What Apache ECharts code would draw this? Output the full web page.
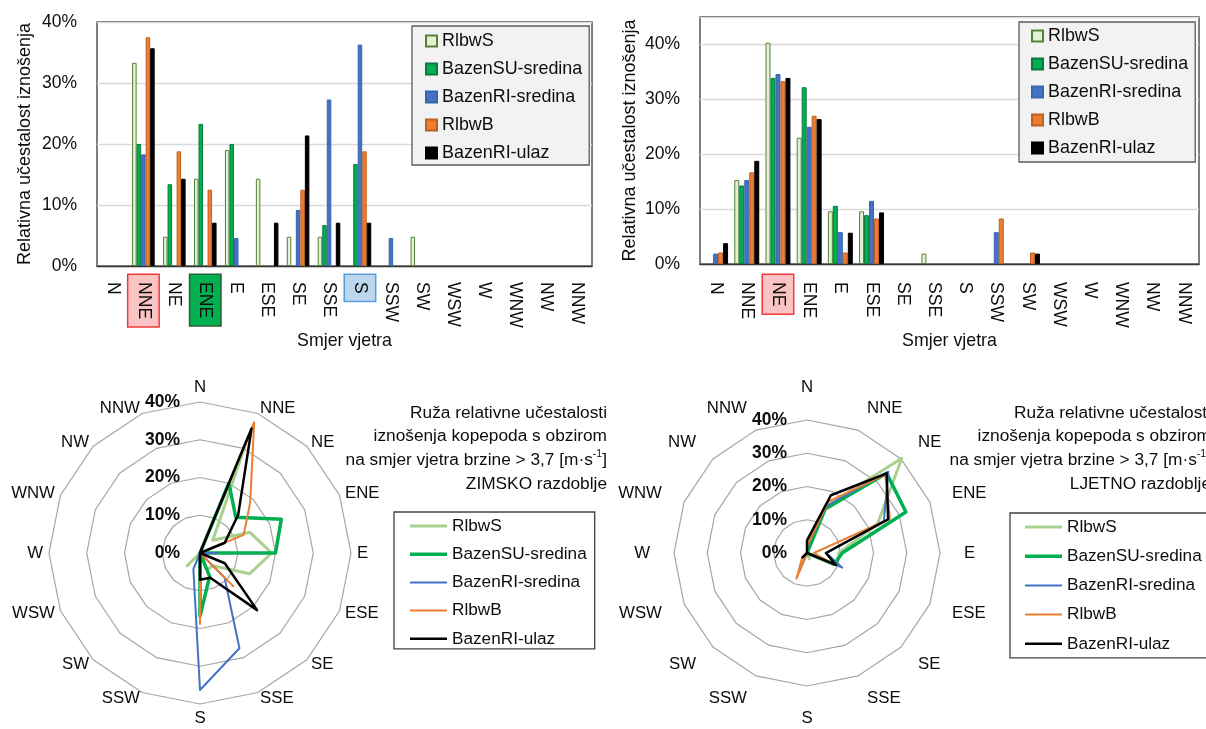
<!DOCTYPE html>
<html><head><meta charset="utf-8">
<script src="https://cdn.jsdelivr.net/npm/echarts@6/dist/echarts.min.js"></script>
<style>html,body{margin:0;padding:0;background:#fff;overflow:hidden}.c{position:absolute;left:0;top:0;width:1206px;height:729px}</style>
</head><body>
<div id="c1" class="c"></div><div id="c2" class="c"></div><div id="c3" class="c"></div><div id="c4" class="c"></div>
<script>
// ---------------- DATA ----------------
const directions = ['N','NNE','NE','ENE','E','ESE','SE','SSE','S','SSW','SW','WSW','W','WNW','NW','NNW'];
const seriesNames = ['RlbwS','BazenSU-sredina','BazenRI-sredina','RlbwB','BazenRI-ulaz'];
const yTickLabels = ['0%','10%','20%','30%','40%'];

// ZIMSKO razdoblje (winter), relative frequency [%]
const winterRlbwS      = [0, 33.3, 4.8, 14.3, 19.0, 14.3, 4.8, 4.8, 0, 0, 4.8, 0, 0, 0, 0, 0];
const winterBazenSU    = [0, 20.0, 13.4, 23.3, 20.0, 0, 0, 6.7, 16.7, 0, 0, 0, 0, 0, 0, 0];
const winterBazenRIsr  = [0, 18.3, 0, 0, 4.6, 0, 9.2, 27.3, 36.3, 4.6, 0, 0, 0, 0, 0, 0];
const winterRlbwB      = [0, 37.5, 18.8, 12.5, 0, 0, 12.5, 0, 18.8, 0, 0, 0, 0, 0, 0, 0];
const winterBazenRIul  = [0, 35.7, 14.3, 7.1, 0, 7.1, 21.4, 7.1, 7.1, 0, 0, 0, 0, 0, 0, 0];

// LJETNO razdoblje (summer), relative frequency [%]
const summerRlbwS      = [0, 15.3, 40.3, 23.0, 9.6, 9.6, 0, 1.9, 0, 0, 0, 0, 0, 0, 0, 0];
const summerBazenSU    = [0, 14.3, 33.9, 32.2, 10.6, 8.9, 0, 0, 0, 0, 0, 0, 0, 0, 0, 0];
const summerBazenRIsr  = [1.9, 15.3, 34.6, 25.0, 5.8, 11.5, 0, 0, 0, 5.8, 0, 0, 0, 0, 0, 0];
const summerRlbwB      = [2.1, 16.7, 33.3, 27.0, 2.1, 8.3, 0, 0, 0, 8.3, 2.1, 0, 0, 0, 0, 0];
const summerBazenRIul  = [3.8, 18.8, 33.9, 26.4, 5.7, 9.4, 0, 0, 0, 0, 1.9, 0, 0, 0, 0, 0];

const winter = [winterRlbwS, winterBazenSU, winterBazenRIsr, winterRlbwB, winterBazenRIul];
const summer = [summerRlbwS, summerBazenSU, summerBazenRIsr, summerRlbwB, summerBazenRIul];

const titleWinter = 'Ruža relativne učestalosti\niznošenja kopepoda s obzirom\nna smjer vjetra brzine > 3,7 [m·s{sup|-1}]\nZIMSKO razdoblje';
const titleSummer = 'Ruža relativne učestalosti\niznošenja kopepoda s obzirom\nna smjer vjetra brzine > 3,7 [m·s{sup|-1}]\nLJETNO razdoblje';

// ---------------- STYLE ----------------
const FF = 'Liberation Sans';
const TXT = '#0d0d0d';

const barFill   = ['#E2F0D9','#00B050','#4472C4','#ED7D31','#000000'];
const barBorder = ['#548235','#0A7A3A','#3A64B0','#C0601F','#000000'];
const lineColor = ['#A9D18E','#00B050','#4472C4','#ED7D31','#000000'];
const lineWidth = [3, 3.5, 2, 2, 2.5];

function barOption(cfg){
  const base = {fontFamily:FF, fontSize:17.6, color:TXT, padding:[6,7,6,7]};
  const rich = {
    n:  base,
    hr: Object.assign({}, base, {backgroundColor:'#FBC4C4', borderColor:'#F03A3A', borderWidth:1.5}),
    hg: Object.assign({}, base, {backgroundColor:'#00B050', borderColor:'#2E5E36', borderWidth:1.5}),
    hb: Object.assign({}, base, {backgroundColor:'#BDD7EE', borderColor:'#5B9BD5', borderWidth:1.5})
  };
  return {
    animation:false,
    textStyle:{fontFamily:FF},
    grid:{left:cfg.left, top:cfg.top, width:cfg.width, height:cfg.height, show:true, borderColor:'#3a3a3a', borderWidth:1.3},
    legend:{
      orient:'vertical', left:cfg.legLeft, top:cfg.legTop, padding:cfg.legPad, itemGap:8,
      itemWidth:11, itemHeight:11, selectedMode:false,
      backgroundColor:'#F2F2F2', borderColor:'#595959', borderWidth:1.3,
      textStyle:{fontFamily:FF, fontSize:17.9, lineHeight:20, color:TXT},
      data: seriesNames.map(n=>({name:n, icon:'rect'}))
    },
    xAxis:{
      type:'category', data:directions,
      axisTick:{show:false}, axisLine:{lineStyle:{color:'#3a3a3a', width:1.3}},
      axisLabel:{interval:0, rotate:-90, margin:cfg.labMargin, formatter:v=>'{'+(cfg.hl[v]||'n')+'|'+v+'}', rich},
      name:'Smjer vjetra', nameLocation:'middle', nameGap:cfg.xNameGap,
      nameTextStyle:{fontFamily:FF, fontSize:17.8, color:TXT}
    },
    yAxis:{
      type:'value', min:0, max:cfg.max, interval:10,
      axisLine:{show:false}, axisTick:{show:false},
      axisLabel:{margin:20, fontFamily:FF, fontSize:17.5, color:TXT, formatter:v=> (v%10===0 && v<=40) ? yTickLabels[v/10] : ''},
      splitLine:{lineStyle:{color:'#D9D9D9', width:1.3}},
      name:'Relativna učestalost iznošenja', nameLocation:'middle', nameGap:cfg.yNameGap,
      nameTextStyle:{fontFamily:FF, fontSize:18, color:TXT}
    },
    series: seriesNames.map((n,k)=>({
      name:n, type:'bar', barGap:'0%', barCategoryGap:cfg.catGap,
      itemStyle:{color:barFill[k], borderColor:barBorder[k], borderWidth:1},
      data: cfg.data[k].map(v=> v===0 ? null : v)
    }))
  };
}

const cw = arr => [arr[0]].concat(arr.slice(1).reverse()); // radar draws counter-clockwise
function lineIcon(t){
  const a=(10-t/2).toFixed(2), b=(10+t/2).toFixed(2);
  return 'path://M0,0L37,0L37,0ZM0,20L37,20L37,20ZM0,'+a+'L37,'+a+'L37,'+b+'L0,'+b+'Z';
}
function radarOption(cfg){
  return {
    animation:false,
    textStyle:{fontFamily:FF},
    title:{
      text:cfg.title, left:cfg.titleRight, top:401, textAlign:'right', padding:0,
      textStyle:{fontFamily:FF, fontSize:17.3, fontWeight:'normal', lineHeight:23.7, color:TXT,
        rich:{sup:{fontFamily:FF, fontSize:10.5, lineHeight:14, verticalAlign:'top', color:TXT}}}
    },
    legend:{
      orient:'vertical', left:cfg.legLeft, top:cfg.legTop, padding:cfg.legPad, itemGap:cfg.legGap,
      itemWidth:37, itemHeight:20, selectedMode:false, symbolKeepAspect:false,
      backgroundColor:'#ffffff', borderColor:'#404040', borderWidth:1.3,
      itemStyle:{borderWidth:0},
      textStyle:{fontFamily:FF, fontSize:17.2, lineHeight:20, color:TXT},
      data: seriesNames.map((n,k)=>({name:n, icon:lineIcon(lineWidth[k]), itemStyle:{color:lineColor[k], borderWidth:0}}))
    },
    radar:{
      center:cfg.center, radius:cfg.radius, startAngle:90, shape:'polygon', splitNumber:4,
      nameGap:cfg.nameGap,
      axisName:{color:TXT, fontFamily:FF, fontSize:16.8},
      splitLine:{lineStyle:{color:'#A6A6A6', width:1.2}},
      splitArea:{show:false}, axisLine:{show:false}, axisTick:{show:false},
      axisLabel:{show:false, margin:20, fontFamily:FF, fontSize:17.5, fontWeight:'bold', color:TXT,
        formatter:v=> yTickLabels[Math.round(v/10)]},
      indicator: cw(directions).map((n,i)=> i===0 ? {name:n, min:0, max:40, axisLabel:{show:true}} : {name:n, min:0, max:40})
    },
    series:[{
      type:'radar', symbol:'none',
      data: seriesNames.map((n,k)=>({name:n, value:cw(cfg.data[k]),
        lineStyle:{color:lineColor[k], width:lineWidth[k]}, itemStyle:{color:lineColor[k]}}))
    }]
  };
}

echarts.init(document.getElementById('c1')).setOption(barOption({
  left:97, top:22, width:495, height:244, max:40, catGap:'27%', labMargin:9,
  xNameGap:65, yNameGap:63, legLeft:412, legTop:26, legPad:[5,7,2,13],
  hl:{NNE:'hr', ENE:'hg', S:'hb'}, data:winter
}));
echarts.init(document.getElementById('c2')).setOption(barOption({
  left:700, top:17, width:499, height:247, max:45, catGap:'20%', labMargin:11,
  xNameGap:66, yNameGap:61, legLeft:1019, legTop:22, legPad:[4,7,4,12],
  hl:{NE:'hr'}, data:summer
}));
echarts.init(document.getElementById('c3')).setOption(radarOption({
  center:[200,553], radius:151, nameGap:6, title:titleWinter, titleRight:607,
  legLeft:394, legTop:512, legPad:[4,8,0,16], legGap:8.2, data:winter
}));
echarts.init(document.getElementById('c4')).setOption(radarOption({
  center:[807,553], radius:133, nameGap:24, title:titleSummer, titleRight:1211,
  legLeft:1010, legTop:513, legPad:[4,8,4,15], legGap:9.2, data:summer
}));
</script>
</body></html>
